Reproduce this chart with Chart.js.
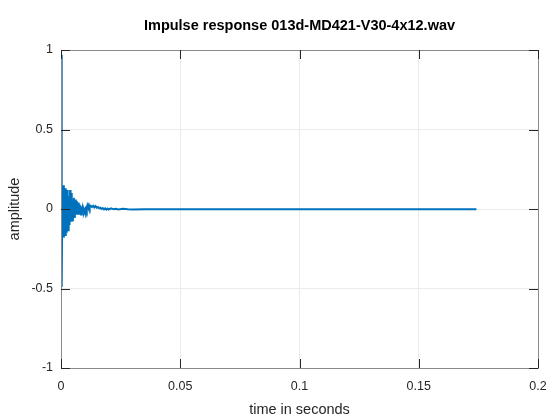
<!DOCTYPE html>
<html>
<head>
<meta charset="utf-8">
<script src="https://cdn.jsdelivr.net/npm/chart.js@4/dist/chart.umd.min.js"></script>
<style>
  body { margin: 0; background: #fff; }
  #wrap { width: 560px; height: 420px; }
</style>
</head>
<body>
<div id="wrap"><canvas id="grafico" width="560" height="420"></canvas></div>
<script>
// impulse response samples (time in s, amplitude)
const timeSec = [
  0, 0.0002, 0.0004, 0.0006, 0.0008, 0.0010, 0.0012, 0.0014, 0.0016, 0.0018,
  0.0020, 0.0022, 0.0024, 0.0026, 0.0028, 0.0030, 0.0032, 0.0034, 0.0036, 0.0038,
  0.0040, 0.0042, 0.0044, 0.0046, 0.0048, 0.0050, 0.0052, 0.0054, 0.0056, 0.0058,
  0.0060, 0.0062, 0.0064, 0.0066, 0.0068, 0.0070, 0.0072, 0.0074, 0.0076, 0.0078,
  0.0080, 0.0082, 0.0084, 0.0086, 0.0088, 0.0090, 0.0092, 0.0094, 0.0096, 0.0098,
  0.0100, 0.0102, 0.0104, 0.0106, 0.0108, 0.0110, 0.0112, 0.0114, 0.0116, 0.0118,
  0.0120, 0.0125, 0.0130, 0.0135, 0.0140, 0.0145, 0.0150, 0.0155, 0.0160, 0.0165,
  0.0170, 0.0175, 0.0180, 0.0185, 0.0190, 0.0195, 0.0200, 0.0210, 0.0220, 0.0230,
  0.0240, 0.0260, 0.0280, 0.0300, 0.0350, 0.0400, 0.0500, 0.0700, 0.1000, 0.1400,
  0.1742
]
const amplitude = [
  0, 0.97, -0.49, 0.14, -0.17, 0.15, -0.18, 0.11, -0.16, 0.13,
  -0.17, 0.09, -0.15, 0.12, -0.12, 0.08, -0.14, 0.06, -0.10, 0.12,
  -0.06, 0.10, -0.08, 0.05, -0.07, 0.06, -0.04, 0.07, -0.05, 0.04,
  -0.03, 0.06, -0.02, 0.05, -0.03, 0.04, -0.02, 0.04, -0.03, 0.03,
  -0.03, 0.02, -0.035, 0.01, -0.03, 0.00, -0.025, -0.005, -0.02, -0.01,
  -0.02, -0.005, -0.015, 0.0, -0.01, 0.01, -0.005, 0.015, 0.005, 0.02,
  0.01, 0.02, 0.012, 0.02, 0.01, 0.018, 0.008, 0.012, 0.004, 0.008,
  0.0, 0.006, -0.002, 0.004, -0.004, 0.003, -0.003, 0.004, -0.002, 0.002,
  -0.003, 0.001, -0.002, -0.003, -0.002, -0.002, -0.002, -0.001, -0.001, -0.001,
  -0.001
]

const xTicks = [0, 0.05, 0.1, 0.15, 0.2]
const xTickLabels = ['0', '0.05', '0.1', '0.15', '0.2']
const yTicks = [-1, -0.5, 0, 0.5, 1]
const yTickLabels = ['-1', '-0.5', '0', '0.5', '1']

const tituloTexto = 'Impulse response 013d-MD421-V30-4x12.wav'
const xTitulo = 'time in seconds'
const yTitulo = 'amplitude'

const corTexto = '#262626'
const fonte = 'Liberation Sans, Arial, sans-serif'

// moldura + marcas de escala para dentro (estilo MATLAB)
const moldura = {
  id: 'moldura',
  afterDraw(chart) {
    const { ctx, chartArea: a, scales } = chart
    const tl = 9
    ctx.save()
    ctx.lineWidth = 1
    ctx.strokeStyle = '#8a8a8a'
    ctx.strokeRect(Math.round(a.left) + 0.5, Math.round(a.top) + 0.5,
      Math.round(a.right - a.left), Math.round(a.bottom - a.top))
    ctx.strokeStyle = corTexto
    ctx.beginPath()
    xTicks.forEach(v => {
      const px = Math.round(scales.x.getPixelForValue(v)) + 0.5
      ctx.moveTo(px, a.bottom); ctx.lineTo(px, a.bottom - tl)
      ctx.moveTo(px, a.top); ctx.lineTo(px, a.top + tl)
    })
    yTicks.forEach(v => {
      const py = Math.round(scales.y.getPixelForValue(v)) + 0.5
      ctx.moveTo(a.left, py); ctx.lineTo(a.left + tl, py)
      ctx.moveTo(a.right, py); ctx.lineTo(a.right - tl, py)
    })
    ctx.stroke()

    // título
    ctx.fillStyle = '#000'
    ctx.font = 'bold 14.5px ' + fonte
    ctx.textAlign = 'center'
    ctx.textBaseline = 'middle'
    ctx.fillText(tituloTexto, (a.left + a.right) / 2, 26)
    ctx.restore()
  }
}

new Chart(document.getElementById('grafico'), {
  type: 'line',
  data: {
    datasets: [{
      data: timeSec.map((t, i) => ({ x: t, y: amplitude[i] })),
      borderColor: '#0072BD',
      borderWidth: 2,
      pointRadius: 0,
      tension: 0,
      fill: false
    }]
  },
  options: {
    responsive: false,
    animation: false,
    events: [],
    layout: { padding: { top: 50, right: 22, bottom: 0, left: 0 } },
    plugins: { legend: { display: false }, tooltip: { enabled: false }, title: { display: false } },
    scales: {
      x: {
        type: 'linear',
        min: 0, max: 0.2,
        afterFit: s => { s.height = 52 },
        afterBuildTicks: s => { s.ticks = xTicks.map(v => ({ value: v })) },
        grid: { color: '#ebebeb', drawTicks: false },
        border: { display: false },
        ticks: {
          padding: 11,
          color: corTexto,
          font: { family: fonte, size: 12.5 },
          maxRotation: 0,
          callback: (v, i) => xTickLabels[i]
        },
        title: {
          display: true, text: xTitulo, color: corTexto,
          font: { family: fonte, size: 14.5 },
          padding: { top: 0, bottom: 1 }
        }
      },
      y: {
        type: 'linear',
        min: -1, max: 1,
        afterFit: s => { s.width = 61 },
        afterBuildTicks: s => { s.ticks = yTicks.map(v => ({ value: v })) },
        grid: { color: '#ebebeb', drawTicks: false },
        border: { display: false },
        ticks: {
          padding: 8,
          color: corTexto,
          font: { family: fonte, size: 12.5 },
          callback: (v, i) => yTickLabels[i]
        },
        title: {
          display: true, text: yTitulo, color: corTexto,
          font: { family: fonte, size: 14.5 },
          padding: { top: 6, bottom: 0 }
        }
      }
    }
  },
  plugins: [moldura]
})
</script>
</body>
</html>
